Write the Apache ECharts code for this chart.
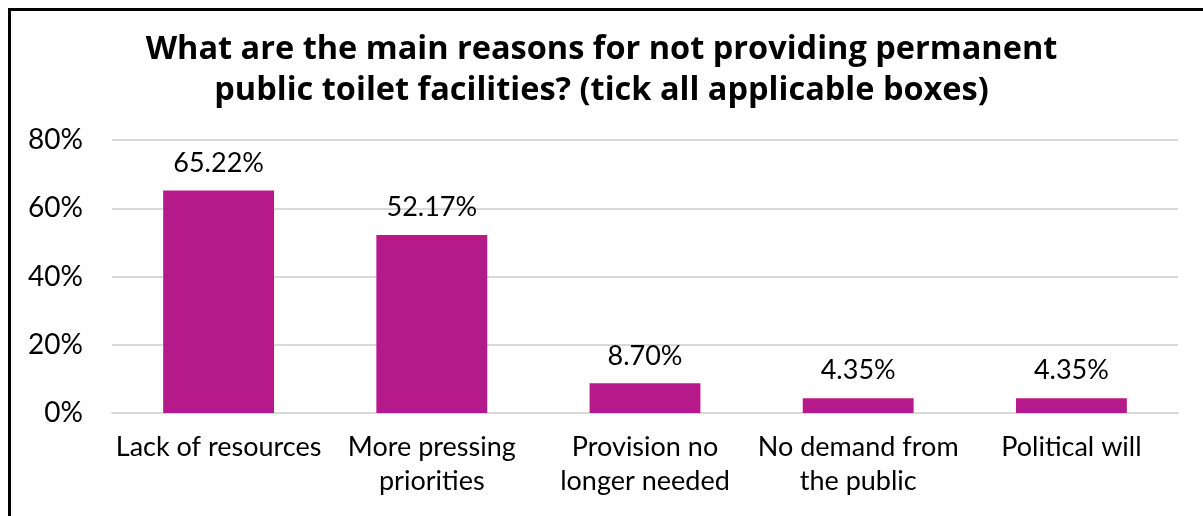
<!DOCTYPE html>
<html>
<head>
<meta charset="utf-8">
<script src="https://cdn.jsdelivr.net/npm/echarts@6/dist/echarts.min.js"></script>
<style>
  html, body { margin: 0; padding: 0; background: #fff; }
  #chart { width: 1203px; height: 516px; }
</style>
</head>
<body>
<div id="chart"></div>
<script>
// Survey responses: reasons for not providing permanent public toilets
const categories = [
  'Lack of resources',
  'More pressing\npriorities',
  'Provision no\nlonger needed',
  'No demand from\nthe public',
  'Political will'
];
const shares = [65.22, 52.17, 8.70, 4.35, 4.35];
const yTicks = [0, 20, 40, 60, 80];

const FONT = 'Lato';
const TITLE_FONT = 'Open Sans';
const chart = echarts.init(document.getElementById('chart'), null, { renderer: 'canvas' });

chart.setOption({
  backgroundColor: '#ffffff',
  animation: false,
  title: {
    text: 'What are the main reasons for not providing permanent\npublic toilet facilities? (tick all applicable boxes)',
    left: 'center',
    top: 29,
    padding: [0, 0, 0, 22],
    textStyle: {
      fontFamily: TITLE_FONT,
      fontWeight: 'bold',
      fontSize: 32.5,
      lineHeight: 41,
      color: '#000'
    }
  },
  graphic: [{
    type: 'rect',
    shape: { x: 9.5, y: 9.5, width: 1400, height: 700 },
    style: { fill: 'none', stroke: '#000', lineWidth: 3 },
    silent: true
  }],
  grid: { left: 112, right: 25, top: 140, bottom: 103 },
  xAxis: {
    type: 'category',
    data: categories,
    axisLine: { show: true, lineStyle: { color: '#d9d9d9', width: 2 } },
    axisTick: { show: false },
    axisLabel: {
      fontFamily: FONT,
      fontSize: 27,
      lineHeight: 34,
      color: '#000',
      margin: 17,
      interval: 0
    }
  },
  yAxis: {
    type: 'value',
    min: yTicks[0],
    max: yTicks[yTicks.length - 1],
    interval: yTicks[1] - yTicks[0],
    axisLine: { show: false },
    axisTick: { show: false },
    splitLine: { lineStyle: { color: '#d9d9d9', width: 2 } },
    axisLabel: {
      fontFamily: FONT,
      fontSize: 28,
      color: '#000',
      margin: 29,
      formatter: v => v + '%'
    }
  },
  series: [{
    type: 'bar',
    data: shares,
    barWidth: '52%',
    itemStyle: { color: '#b61a8a' },
    label: {
      show: true,
      position: 'top',
      distance: 14,
      fontFamily: FONT,
      fontSize: 27,
      color: '#000',
      formatter: p => p.value.toFixed(2) + '%'
    }
  }]
});
</script>
</body>
</html>
